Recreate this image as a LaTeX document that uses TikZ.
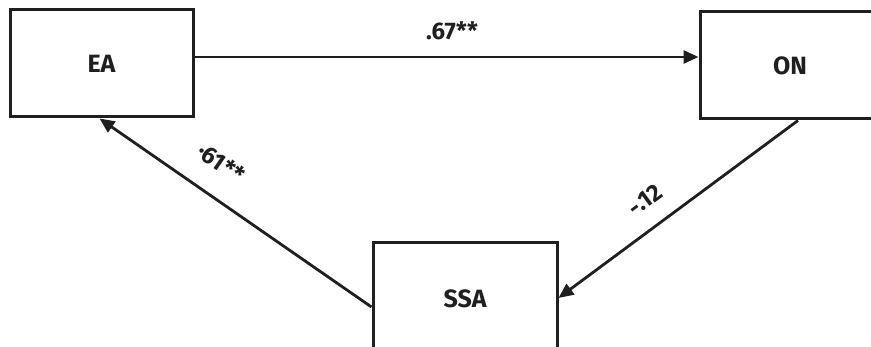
\documentclass[tikz,border=0pt]{standalone}
\usepackage{fontspec}
\setmainfont{Fira Sans}
\usetikzlibrary{arrows.meta}
\tikzset{
  varbox/.style={draw=black!88, line width=3pt, rectangle, inner sep=0pt,
    font=\bfseries\fontsize{25}{30}\selectfont, text=black!88},
  path/.style={draw=black!88, line width=2.8pt,
    -{Triangle[length=15pt,width=13pt]}},
  coef/.style={font=\bfseries\fontsize{24}{28}\selectfont, text=black!88, inner sep=0pt}
}
\begin{document}
\begin{tikzpicture}[x=1pt,y=-1pt]
  \clip (0,0) rectangle (871,347);
  \fill[white] (0,0) rectangle (871,347);
  % the three measured variables
  \node[varbox, minimum width=183pt, minimum height=107pt] (EA) at (101.5,63.5) {EA};
  \node[varbox, minimum width=180pt, minimum height=107pt] (ON) at (790,65.5) {ON};
  \node[varbox, minimum width=184pt, minimum height=120pt] (SSA) at (465,303) {\raisebox{8pt}{SSA}};
  % directed paths between them
  \draw[path] ([yshift=6.5pt]EA.east) -- ([yshift=8.5pt]ON.west);
  \draw[path] ([xshift=8pt]ON.south) -- ([yshift=5pt]SSA.east);
  \draw[path] ([yshift=-4pt]SSA.west) -- ([xshift=-2pt]EA.south);
  % path coefficients
  \node[coef] (c1) at (452,31) {.67**};
  \node[coef, rotate=-34.6] (c2) at (221,163) {·61**};
  \node[coef, rotate=36.4] (c3) at (645,200) {-.12};
\end{tikzpicture}
\end{document}
